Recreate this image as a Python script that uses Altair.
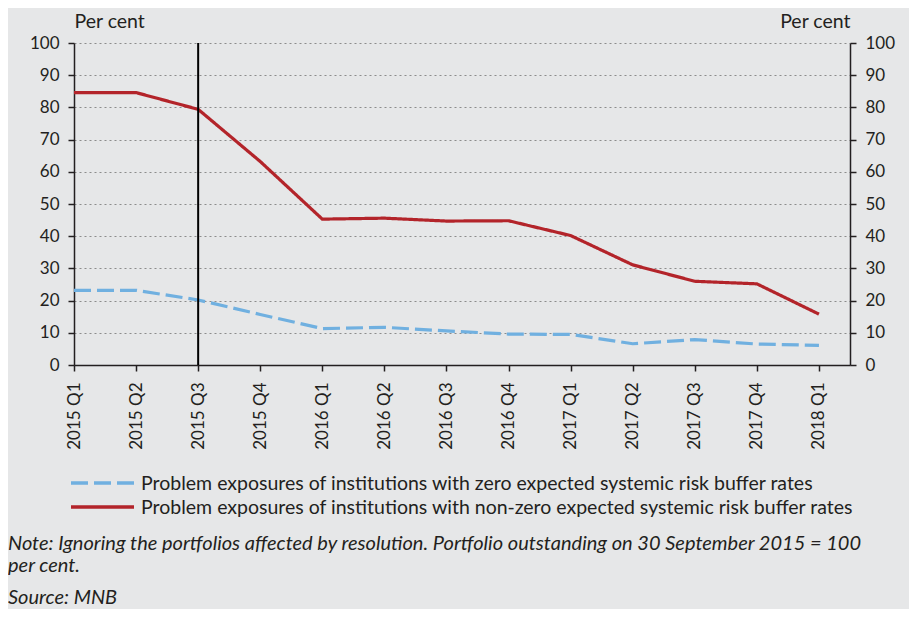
import json
import altair as alt
import pandas as pd

quarters = ["2015 Q1", "2015 Q2", "2015 Q3", "2015 Q4",
            "2016 Q1", "2016 Q2", "2016 Q3", "2016 Q4",
            "2017 Q1", "2017 Q2", "2017 Q3", "2017 Q4", "2018 Q1"]
zero_rates = [23.2, 23.2, 20.2, 15.7, 11.3, 11.7, 10.6, 9.6, 9.5, 6.6, 7.9, 6.5, 6.1]
nonzero_rates = [84.6, 84.6, 79.4, 63.2, 45.3, 45.6, 44.7, 44.8, 40.2, 31.1, 26.0, 25.2, 15.8]
series_names = [
    "Problem exposures of institutions with zero expected systemic risk buffer rates",
    "Problem exposures of institutions with non-zero expected systemic risk buffer rates",
]
series_colors = ["#70b0e0", "#b3242a"]
note_lines = [
    "Note: Ignoring the portfolios affected by resolution. Portfolio outstanding on 30 September 2015 = 100",
    "per cent.",
]
source_line = "Source: MNB"
y_ticks = list(range(0, 101, 10))
marker_quarter = "2015 Q3"
axis_title = "Per cent"

rows = []
for i, q in enumerate(quarters):
    rows.append({"idx": i, "quarter": q, "series": series_names[0], "value": zero_rates[i]})
    rows.append({"idx": i, "quarter": q, "series": series_names[1], "value": nonzero_rates[i]})
df = pd.DataFrame(rows)

FONT = "Lato"
TXT = "#231f20"
FS = 17
FS_TEXT = 19.5
FS_NOTE = 20

x_scale = alt.Scale(domain=[0, len(quarters) - 0.5], nice=False, zero=False)
y_scale = alt.Scale(domain=[0, 100], nice=False)
color_scale = alt.Scale(domain=series_names, range=series_colors)
dash_scale = alt.Scale(domain=series_names, range=[[17, 6], [1, 0]])

x_axis = alt.Axis(values=list(range(len(quarters))),
                  labelExpr=json.dumps(quarters) + "[datum.value]",
                  labelAngle=270, title=None, grid=False,
                  domainColor=TXT, domainWidth=1.5, tickColor=TXT, tickSize=6,
                  tickWidth=1.5, labelFontSize=FS, labelColor=TXT, labelFont=FONT,
                  labelPadding=11)

common_y = dict(values=y_ticks, domainColor=TXT, domainWidth=1.5, tickColor=TXT,
                tickSize=6, tickWidth=1.5, labelFontSize=FS, labelColor=TXT,
                labelFont=FONT, labelPadding=9, title=axis_title, titleAngle=0,
                titleBaseline="bottom", titleX=0, titleY=-12,
                titleFontWeight="normal", titleFontSize=FS_TEXT, titleFont=FONT,
                titleColor=TXT)

left_axis = alt.Axis(orient="left", grid=True, gridDash=[2, 3],
                     gridColor="#8c8c8c", gridWidth=1, titleAlign="left", **common_y)
right_axis = alt.Axis(orient="right", grid=False, titleAlign="right", **common_y)

base = alt.Chart(df)

lines = base.mark_line(strokeWidth=3.2).encode(
    x=alt.X("idx:Q", scale=x_scale, axis=x_axis),
    y=alt.Y("value:Q", scale=y_scale, axis=left_axis),
    color=alt.Color("series:N", scale=color_scale, legend=None),
    strokeDash=alt.StrokeDash("series:N", scale=dash_scale, legend=None),
)

right = base.mark_line(opacity=0).encode(
    x=alt.X("idx:Q", scale=x_scale, axis=x_axis),
    y=alt.Y("value:Q", scale=y_scale, axis=right_axis),
)

vline = alt.Chart(pd.DataFrame({"q": [marker_quarter]})).mark_rule(
    color="black", strokeWidth=2
).encode(
    x=alt.X(datum=quarters.index(marker_quarter), scale=x_scale, axis=x_axis),
    y=alt.Y(datum=0, scale=y_scale, axis=None),
    y2=alt.Y2(datum=100),
)

# legend drawn below the plot
legend_df = pd.DataFrame({"series": series_names, "ly": [440, 464]})
legend_sym = alt.Chart(legend_df).mark_rule(strokeWidth=3.5).encode(
    x=alt.value(-3), x2=alt.value(60),
    y=alt.Y("ly:Q", scale=None),
    color=alt.Color("series:N", scale=color_scale, legend=None),
    strokeDash=alt.StrokeDash("series:N", scale=dash_scale, legend=None),
)
legend_txt = alt.Chart(legend_df).mark_text(
    align="left", baseline="middle", fontSize=FS_TEXT, font=FONT, color=TXT, dy=1
).encode(
    text="series:N",
    x=alt.value(67),
    y=alt.Y("ly:Q", scale=None),
)

note_df = pd.DataFrame({"t": note_lines + [source_line],
                        "ypos": [507, 529, 561]})
notes = alt.Chart(note_df).mark_text(
    align="left", baseline="alphabetic", fontStyle="italic", fontSize=FS_NOTE,
    font=FONT, color=TXT
).encode(
    text="t:N",
    x=alt.value(-66),
    y=alt.Y("ypos:Q", scale=None),
)

chart = alt.layer(lines, right, vline, legend_sym, legend_txt, notes).resolve_axis(
    y="independent"
).properties(
    width=776, height=322,
    autosize=alt.AutoSizeParams(type="none"),
    padding={"left": 66, "top": 35, "right": 59, "bottom": 244},
    background="#e6e7e8",
).configure_view(stroke=None)

chart.save("out.html", embed_options={"renderer": "svg", "actions": False})
